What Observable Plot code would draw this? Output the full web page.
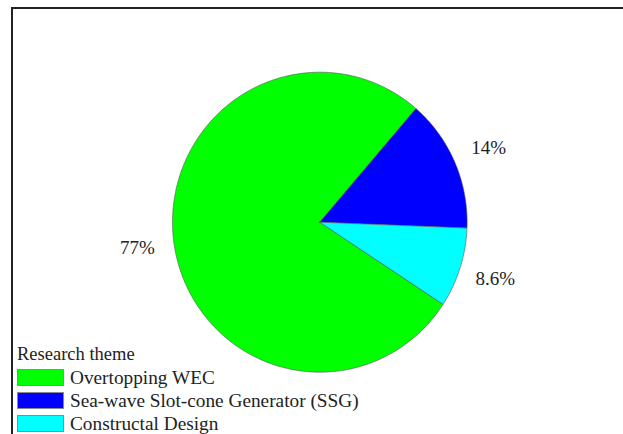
<!DOCTYPE html>
<html>
<head>
<meta charset="utf-8">
<script src="https://cdn.jsdelivr.net/npm/d3@7"></script>
<script src="https://cdn.jsdelivr.net/npm/@observablehq/plot@0.6"></script>
<style>
  html, body { margin: 0; padding: 0; background: #fff; }
  #chart { position: relative; width: 623px; height: 434px; overflow: hidden; font-family: "Liberation Serif", "Times New Roman", serif; }
  #frame { position: absolute; left: 11px; top: 7px; width: 640px; height: 460px; border-top: 2px solid #222; border-left: 2px solid #222; box-sizing: border-box; }
  #plot { position: absolute; left: 0; top: 0; }
  #plot text { font-family: "Liberation Serif", "Times New Roman", serif; }
  #legend { position: absolute; left: 17px; top: 343px; color: #222; font-size: 19.3px; line-height: 23px; }
  #legend .title { font-size: 18.5px; }
  #legend .row { display: flex; align-items: center; height: 23px; }
  #legend .sw { width: 45px; height: 15px; border: 1px solid #8a8a8a; margin-right: 6px; }
</style>
</head>
<body>
<div id="chart">
  <div id="frame"></div>
  <div id="plot"></div>
  <div id="legend"></div>
</div>
<script>
const categories = ["Overtopping WEC", "Sea-wave Slot-cone Generator (SSG)", "Constructal Design"];
const shares = [77.1, 14.3, 8.6];
const labels = ["77%", "14%", "8.6%"];
const colors = ["#00ff00", "#0000ff", "#00ffff"];
const legendTitle = "Research theme";

const start = 123.2 * Math.PI / 180;
const arcs = d3.pie().sort(null).startAngle(start).endAngle(start + 2 * Math.PI)(shares);

const slicePts = [];
arcs.forEach((a, i) => {
  const n = Math.max(2, Math.ceil((a.endAngle - a.startAngle) / (Math.PI / 360)));
  slicePts.push({cat: categories[i], color: colors[i], x: 0, y: 0});
  for (let k = 0; k <= n; k++) {
    const t = a.startAngle + (a.endAngle - a.startAngle) * k / n;
    slicePts.push({cat: categories[i], color: colors[i], x: Math.sin(t), y: Math.cos(t)});
  }
  slicePts.push({cat: categories[i], color: colors[i], x: 0, y: 0});
});

const labelPts = arcs.map((a, i) => {
  const m = (a.startAngle + a.endAngle) / 2;
  return {label: labels[i], x: 1.25 * Math.sin(m), y: 1.25 * Math.cos(m)};
});

const chart = Plot.plot({
  width: 623,
  height: 434,
  style: {background: "transparent", fontFamily: "'Liberation Serif', 'Times New Roman', serif"},
  x: {domain: [-1, 1], range: [172, 466.6], axis: null},
  y: {domain: [-1, 1], range: [371.7, 71.7], axis: null},
  color: {type: "identity"},
  marks: [
    Plot.line(slicePts, {x: "x", y: "y", z: "cat", fill: "color", stroke: "#555", strokeWidth: 0.6, curve: "linear"}),
    Plot.text(labelPts, {x: "x", y: "y", text: "label", fontSize: 19, fontFamily: "Liberation Serif", fill: "#222"})
  ]
});
document.getElementById("plot").appendChild(chart);

const legend = document.getElementById("legend");
const t = document.createElement("div");
t.className = "row title";
t.textContent = legendTitle;
legend.appendChild(t);
categories.forEach((c, i) => {
  const r = document.createElement("div");
  r.className = "row";
  const s = document.createElement("div");
  s.className = "sw";
  s.style.background = colors[i];
  const l = document.createElement("span");
  l.textContent = c;
  r.appendChild(s);
  r.appendChild(l);
  legend.appendChild(r);
});
</script>
</body>
</html>
